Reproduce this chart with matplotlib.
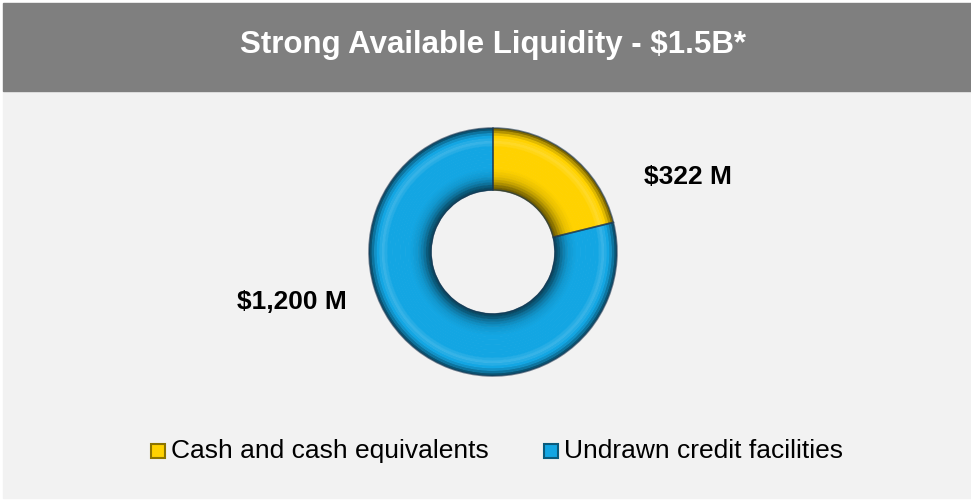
import matplotlib.pyplot as plt
import numpy as np
from matplotlib.colors import to_rgb
from matplotlib.patches import Rectangle

plt.rcParams["font.family"] = ["Liberation Sans", "DejaVu Sans"]

TITLE = "Strong Available Liquidity - $1.5B*"
CATEGORIES = ["Cash and cash equivalents", "Undrawn credit facilities"]
VALUES = [322, 1200]
LABELS = ["$322 M", "$1,200 M"]
COLORS = ["#ffd200", "#13a6e3"]

W, H = 971, 501


def shade(color, f):
    r, g, b = to_rgb(color)
    if f < 1:
        return (r * f, g * f, b * f)
    t = f - 1
    return (r + (1 - r) * t, g + (1 - g) * t, b + (1 - b) * t)


def main():
    fig = plt.figure(figsize=(W / 100, H / 100), dpi=100)
    fig.patch.set_facecolor("white")
    bg = fig.add_axes([0, 0, 1, 1])
    bg.set_xlim(0, W)
    bg.set_ylim(H, 0)
    bg.axis("off")
    bg.add_patch(Rectangle((3, 91), W - 3, H - 94, color="#f2f2f2", zorder=0))
    bg.add_patch(Rectangle((3, 3), W - 3, 88, color="#7f7f7f", zorder=1))
    bg.text(493, 45, TITLE, color="white", fontsize=22.5, fontweight="bold",
            ha="center", va="center")

    # donut, centre (493, 252), outer radius 124 px
    cx, cy, R = 493, 252, 124
    span = 1.1
    ax = fig.add_axes([(cx - R * span) / W, (H - cy - R * span) / H,
                       2 * R * span / W, 2 * R * span / H])
    ax.set_xlim(-span, span)
    ax.set_ylim(-span, span)
    ax.set_aspect("equal")
    ax.axis("off")

    # tube-like shading: radius profile from outer edge to inner edge
    n = 24
    radii = np.linspace(1.0, 0.5, n + 1)
    prof = [0.5, 0.7, 0.88, 1.0, 1.08, 1.15, 1.08, 1.0, 1.0, 1.0, 1.0, 1.0,
            1.0, 1.0, 1.0, 1.0, 0.98, 0.95, 0.92, 0.86, 0.78, 0.68, 0.55, 0.45]
    for i in range(n):
        cols = [shade(c, prof[i]) for c in COLORS]
        ax.pie(VALUES, radius=radii[i], startangle=90, counterclock=False,
               colors=cols,
               wedgeprops=dict(width=radii[i] - radii[i + 1] + 0.005,
                               linewidth=0))
    ax.pie(VALUES, radius=1.0, startangle=90, counterclock=False,
           colors=["none", "none"],
           wedgeprops=dict(width=0.5, linewidth=1.2, edgecolor="#1a3550",
                           alpha=0.6))
    ax.set_xlim(-span, span)
    ax.set_ylim(-span, span)

    bg.text(688, 177, LABELS[0], fontsize=19, fontweight="bold",
            ha="center", va="center")
    bg.text(292, 302, LABELS[1], fontsize=19, fontweight="bold",
            ha="center", va="center")

    # legend
    lx = [150, 543]
    for x0, cat, col in zip(lx, CATEGORIES, COLORS):
        bg.add_patch(Rectangle((x0 + 1, 444), 14, 14, facecolor=col,
                               edgecolor=shade(col, 0.55), linewidth=1.5))
        bg.text(x0 + 21, 451, cat, fontsize=19, ha="left", va="center")

    fig.savefig("out.png", dpi=100)


if __name__ == "__main__":
    main()
